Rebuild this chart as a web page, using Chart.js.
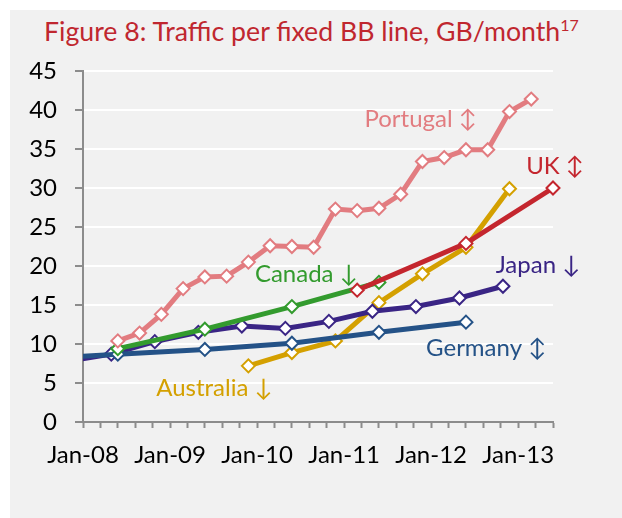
<!DOCTYPE html>
<html>
<head>
<meta charset="utf-8">
<script src="https://cdn.jsdelivr.net/npm/chart.js@4"></script>
<style>
  body { margin: 0; background: #fff; }
  #box { position: absolute; left: 10px; top: 10px; width: 612px; height: 508px; background: #f1f1f1; }
  #title { position: absolute; left: 34px; top: 5px; font-family: Lato, sans-serif; font-size: 26.7px; color: #c0272f; white-space: nowrap; }
  #title sup { font-size: 16px; }
  canvas { position: absolute; left: 0; top: 0; }
</style>
</head>
<body>
<div id="box">
  <div id="title">Figure 8: Traffic per fixed BB line, GB/month<sup>17</sup></div>
  <canvas id="chart" width="612" height="508"></canvas>
</div>
<script>
// x values are months since Jan-08
let portugalX = [4.8, 7.8, 10.8, 13.8, 16.8, 19.8, 22.8, 25.8, 28.8, 31.8, 34.8, 37.8, 40.8, 43.8, 46.8, 49.8, 52.8, 55.8, 58.8, 61.8];
let portugalY = [10.4, 11.4, 13.8, 17.1, 18.6, 18.7, 20.5, 22.6, 22.5, 22.4, 27.3, 27.1, 27.4, 29.2, 33.4, 33.9, 34.9, 34.9, 39.8, 41.4];
let ukX = [37.8, 52.8, 64.8];
let ukY = [16.9, 22.9, 30.0];
let canadaX = [4.8, 16.8, 28.8, 40.8];
let canadaY = [9.4, 11.9, 14.8, 17.9];
let japanX = [-2.1, 3.9, 9.9, 15.9, 21.9, 27.9, 33.9, 39.9, 45.9, 51.9, 57.9];
let japanY = [7.8, 8.7, 10.3, 11.5, 12.3, 12.0, 12.9, 14.2, 14.8, 15.9, 17.4];
let germanyX = [-7.2, 4.8, 16.8, 28.8, 40.8, 52.8];
let germanyY = [8.0, 8.7, 9.3, 10.1, 11.5, 12.8];
let australiaX = [22.8, 28.8, 34.8, 40.8, 46.8, 52.8, 58.8];
let australiaY = [7.2, 8.9, 10.4, 15.3, 19.0, 22.4, 29.9];

let yTicks = [0, 5, 10, 15, 20, 25, 30, 35, 40, 45];
let yearLabels = ["Jan-08", "Jan-09", "Jan-10", "Jan-11", "Jan-12", "Jan-13"];

function pts(xs, ys) {
  return xs.map((x, i) => ({x: x, y: ys[i]}));
}

function series(name, xs, ys, color, clip) {
  return {
    label: name,
    data: pts(xs, ys),
    borderColor: color,
    backgroundColor: color,
    borderWidth: 5,
    pointStyle: 'rectRot',
    pointRadius: 6.5,
    pointBorderWidth: 2,
    pointBackgroundColor: '#ffffff',
    pointBorderColor: color,
    tension: 0,
    clip: clip
  };
}

// lines that start before Jan-08 are cut at the axis, the rest may overflow a little
let cutLeft = {left: 0, top: 10, right: 10, bottom: 10};

// text next to each line: [text, month, value, colour]
let lineNames = [
  ["Portugal \u2195", 38.8, 38.8, '#e27c80'],
  ["UK \u2195", 61.1, 32.8, '#c4262e'],
  ["Canada \u2193", 23.7, 18.9, '#339b2e'],
  ["Japan \u2193", 56.9, 20.1, '#3a2585'],
  ["Germany \u2195", 47.3, 9.4, '#245287'],
  ["Australia \u2193", 10.1, 4.3, '#d4a000']
];

let lineNamePlugin = {
  id: 'lineNames',
  afterDatasetsDraw(chart) {
    let ctx = chart.ctx;
    let xs = chart.scales.x, ys = chart.scales.y;
    ctx.save();
    ctx.font = '24px Lato, "DejaVu Sans", sans-serif';
    ctx.textBaseline = 'middle';
    ctx.textAlign = 'left';
    lineNames.forEach(n => {
      ctx.fillStyle = n[3];
      ctx.fillText(n[0], xs.getPixelForValue(n[1]), ys.getPixelForValue(n[2]));
    });
    ctx.restore();
  }
};

new Chart(document.getElementById("chart"), {
  type: 'line',
  data: {
    datasets: [
      series("UK", ukX, ukY, '#c4262e', 10),
      series("Portugal", portugalX, portugalY, '#e27c80', 10),
      series("Canada", canadaX, canadaY, '#339b2e', 10),
      series("Germany", germanyX, germanyY, '#245287', cutLeft),
      series("Japan", japanX, japanY, '#3a2585', cutLeft),
      series("Australia", australiaX, australiaY, '#d4a000', 10)
    ]
  },
  plugins: [lineNamePlugin],
  options: {
    responsive: false,
    animation: false,
    layout: { padding: { top: 61, right: 69, left: 0, bottom: 0 } },
    plugins: {
      legend: { display: false },
      tooltip: { enabled: false }
    },
    scales: {
      x: {
        type: 'linear',
        min: 0,
        max: 64.8,
        afterBuildTicks: scale => {
          let t = [];
          for (let i = 0; i <= 27; i++) t.push({value: i * 2.4});
          scale.ticks = t;
        },
        afterFit: scale => { scale.height = 96; },
        ticks: {
          autoSkip: false,
          maxRotation: 0,
          color: '#000',
          font: { family: 'Lato', size: 24 },
          padding: 13,
          callback: v => {
            let k = Math.round(v / 12);
            return Math.abs(v - k * 12) < 1e-6 ? yearLabels[k] : '';
          }
        },
        grid: { drawOnChartArea: false, tickColor: '#8c8c8c', tickLength: 6, tickWidth: 2 },
        border: { color: '#8c8c8c', width: 2 }
      },
      y: {
        min: 0,
        max: 45,
        afterBuildTicks: scale => { scale.ticks = yTicks.map(v => ({value: v})); },
        afterFit: scale => { scale.width = 73; },
        ticks: {
          color: '#000',
          font: { family: 'Lato', size: 24 },
          padding: 18
        },
        grid: { color: '#ffffff', lineWidth: 2, tickColor: '#8c8c8c', tickLength: 8, tickWidth: 2 },
        border: { color: '#8c8c8c', width: 2 }
      }
    }
  }
});
</script>
</body>
</html>
